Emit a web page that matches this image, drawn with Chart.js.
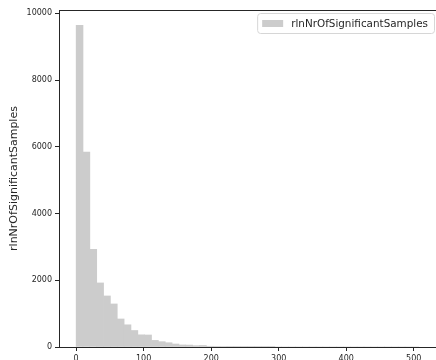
<!DOCTYPE html>
<html>
<head>
<meta charset="utf-8">
<script src="https://cdn.jsdelivr.net/npm/chart.js"></script>
<style>
  html, body { margin: 0; padding: 0; background: #fff; overflow: hidden; }
  #wrap { width: 436px; height: 360px; }
</style>
</head>
<body>
<div id="wrap"><canvas id="hist" width="436" height="360"></canvas></div>
<script>
// histogram of rlnNrOfSignificantSamples, 50 bins starting at 0
const seriesLabel = 'rlnNrOfSignificantSamples';
const binStart = 0;
const binWidth = 10.15;
const binCounts = [
  9640, 5845, 2930, 1920, 1530, 1290, 840, 665, 495, 365,
  360, 198, 160, 128, 90, 62, 58, 40, 46, 22,
  20, 18, 8, 6, 4, 3, 3, 2, 2, 0,
  0, 0, 0, 0, 0, 0, 0, 0, 0, 0,
  0, 0, 0, 0, 0, 0, 0, 0, 0, 0
];
const xTicks = [0, 100, 200, 300, 400, 500];
const yTicks = [0, 2000, 4000, 6000, 8000, 10000];

const points = binCounts.map((c, i) => ({ x: binStart + (i + 0.5) * binWidth, y: c }));

const tickFont = { family: 'DejaVu Sans', size: 8 };
const ink = '#262626';

// top spine + legend box drawn inside the plot area (upper right)
const framePlugin = {
  id: 'framePlugin',
  afterDraw(chart) {
    const { ctx, chartArea } = chart;
    ctx.save();
    ctx.strokeStyle = ink;
    ctx.lineWidth = 1;
    ctx.beginPath();
    ctx.moveTo(chartArea.left, chartArea.top + 0.5);
    ctx.lineTo(chartArea.right, chartArea.top + 0.5);
    ctx.stroke();

    const ds = chart.data.datasets[0];
    ctx.font = '10.4px "DejaVu Sans"';
    const textW = ctx.measureText(ds.label).width;
    const boxW = 5 + 21 + 8 + textW + 6;
    const boxH = 20;
    const bx = chartArea.right - 2 - boxW;
    const by = chartArea.top + 3;
    ctx.beginPath();
    ctx.roundRect(bx + 0.5, by + 0.5, boxW, boxH, 3);
    ctx.fillStyle = 'rgba(255,255,255,0.8)';
    ctx.fill();
    ctx.strokeStyle = '#d6d6d6';
    ctx.stroke();
    ctx.fillStyle = ds.backgroundColor;
    ctx.fillRect(bx + 5, by + 7, 21, 7);
    ctx.fillStyle = ink;
    ctx.textBaseline = 'middle';
    ctx.fillText(ds.label, bx + 34, by + boxH / 2 + 1);
    ctx.restore();
  }
};

new Chart(document.getElementById('hist'), {
  type: 'bar',
  data: {
    datasets: [{
      label: seriesLabel,
      data: points,
      backgroundColor: '#cccccc',
      borderWidth: 0,
      barPercentage: 1,
      categoryPercentage: 1
    }]
  },
  options: {
    responsive: false,
    animation: false,
    layout: { padding: { top: 10, right: 0, bottom: 0, left: 0 } },
    plugins: { legend: { display: false }, tooltip: { enabled: false } },
    scales: {
      x: {
        type: 'linear',
        offset: false,
        min: -25.4,
        max: 533,
        afterBuildTicks: s => { s.ticks = xTicks.map(v => ({ value: v })); },
        afterFit: s => { s.height = 13; },
        grid: { offset: false, drawOnChartArea: false, drawTicks: true, tickLength: 4, tickColor: ink },
        border: { display: true, color: ink, width: 1 },
        ticks: { color: ink, font: tickFont, padding: 3, maxRotation: 0, callback: v => String(v) }
      },
      y: {
        min: 0,
        max: 10100,
        afterBuildTicks: s => { s.ticks = yTicks.map(v => ({ value: v })); },
        afterFit: s => { s.width = 59; },
        grid: { drawOnChartArea: false, drawTicks: true, tickLength: 4, tickColor: ink },
        border: { display: true, color: ink, width: 1 },
        ticks: { color: ink, font: tickFont, padding: 3, callback: v => String(v) },
        title: {
          display: true,
          text: seriesLabel,
          color: ink,
          font: { family: 'DejaVu Sans', size: 11 },
          padding: { top: 8, bottom: 0 }
        }
      }
    }
  },
  plugins: [framePlugin]
});
</script>
</body>
</html>
